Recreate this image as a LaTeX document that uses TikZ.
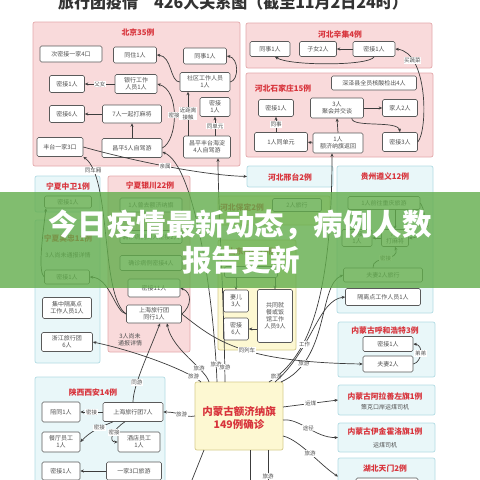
\documentclass[tikz,border=0pt]{standalone}
\usepackage{fontspec}
\newfontfamily\cjk{Noto Sans CJK SC}
\usetikzlibrary{arrows.meta,calc}
\definecolor{pfill}{HTML}{F9DADB}
\definecolor{pdraw}{HTML}{E4A9AC}
\definecolor{cfill}{HTML}{E9F7F9}
\definecolor{cdraw}{HTML}{B3DCE4}
\definecolor{yfill}{HTML}{FDF8D2}
\definecolor{ydraw}{HTML}{D6CB8C}
\definecolor{tred}{HTML}{D8343C}
\definecolor{ndraw}{HTML}{5A5A5A}
\definecolor{tgray}{HTML}{505050}
\definecolor{edark}{HTML}{3C3C3C}
\definecolor{bgreen}{HTML}{62AD4C}
\newcommand\mkn[6]{\node[nd,minimum width=#4pt,minimum height=#5pt] (#1) at (#2,#3) {#6};}
\newcommand\mkb[6]{\node[#2,minimum width={#5pt-#3pt},minimum height={#6pt-#4pt}] (#1) at ({(#3+#5)/2},{(#4+#6)/2}) {};}
\begin{document}
\begin{tikzpicture}[x=1pt,y=-1pt,
  nd/.style={draw=ndraw, fill=white, rounded corners=1.5pt, line width=0.6pt, text=tgray, font=\cjk\fontsize{6}{7}\selectfont, align=center, inner sep=0.5pt},
  pinkbox/.style={draw=pdraw, fill=pfill, rounded corners=2pt, line width=0.7pt, inner sep=0pt, outer sep=0pt},
  cyanbox/.style={draw=cdraw, fill=cfill, rounded corners=2pt, line width=0.7pt, inner sep=0pt, outer sep=0pt},
  ybox/.style={draw=ydraw, fill=yfill, rounded corners=2pt, line width=0.7pt, inner sep=0pt, outer sep=0pt},
  ttl/.style={text=tred, font=\cjk\bfseries\fontsize{7.8}{9}\selectfont, inner sep=0pt},
  sub/.style={text=tgray, font=\cjk\fontsize{6}{7}\selectfont, inner sep=0pt, align=center},
  lbl/.style={fill=white, text=tgray, font=\cjk\fontsize{5.5}{6.5}\selectfont, inner sep=0.6pt, align=center},
  ed/.style={draw=edark, line width=0.7pt, -{Stealth[length=3.5pt,width=3pt]}},
  edl/.style={draw=edark, line width=0.7pt},
]
\useasboundingbox (0,0) rectangle (480,480);
\clip (0,0) rectangle (480,480);
\fill[white] (0,0) rectangle (480,480);

\node[font=\cjk\bfseries\fontsize{16}{16}\selectfont, text=black!80, inner sep=0pt] (tt) at (233,2) {旅行团疫情\quad 426人关系图（截至11月2日24时）};

% ---------- boxes ----------
\mkb{bbj}{pinkbox}{33}{22}{240}{166}
\mkb{bxj}{pinkbox}{246}{23}{432}{68}
\mkb{bsj}{pinkbox}{246}{73}{433}{157}
\mkb{bxt}{cyanbox}{247}{166}{333}{187}
\mkb{bgz}{cyanbox}{337}{166}{433}{313}
\mkb{bbd}{ybox}{218}{196}{330}{225}
\mkb{bsd}{ybox}{218}{240}{296}{350}
\mkb{bzw}{cyanbox}{35}{176}{100}{212}
\mkb{bwz}{cyanbox}{35}{220}{100}{363}
\mkb{byc}{pinkbox}{108}{176}{190}{352}
\mkb{bxa}{cyanbox}{35}{377}{165}{495}
\mkb{bnm}{ybox}{195}{382}{283}{450}
\mkb{bhh}{cyanbox}{338}{322}{435}{377}
\mkb{balsa}{cyanbox}{338}{385}{435}{415}
\mkb{byj}{cyanbox}{338}{423}{435}{452}
\mkb{btm}{cyanbox}{338}{458}{435}{495}

% ---------- titles ----------
\node[ttl] (tbj) at (138,33) {北京35例};
\node[ttl] (txj) at (340,34) {河北辛集4例};
\node[ttl] (tsj) at (283,88) {河北石家庄15例};
\node[ttl] (txt) at (290,177) {河北邢台2例};
\node[ttl] (tgz) at (385,177) {贵州遵义12例};
\node[ttl] (tbd) at (242,207) {河北保定2例};
\node[ttl] (tsd) at (252,252) {山东日照19例};
\node[ttl] (tzw) at (68,186) {宁夏中卫1例};
\node[ttl] (twz) at (68,238) {宁夏吴忠11例};
\node[sub] (twz2) at (68,255) {3人尚未通报详情};
\node[ttl] (tyc) at (150,186) {宁夏银川22例};
\node[sub] (tyc2) at (130,340) {3人尚未\\通报详情};
\node[ttl] (txa) at (93,393) {陕西西安14例};
\node[text=tred, font=\cjk\bfseries\fontsize{10.5}{13}\selectfont, align=center, inner sep=0pt] (tnm) at (239,418) {内蒙古额济纳旗\\149例确诊};
\node[ttl] (thh) at (385,331) {内蒙古呼和浩特3例};
\node[ttl] (talsa) at (385,396) {内蒙古阿拉善左旗1例};
\node[sub] (salsa) at (385,407) {策克口岸运煤司机};
\node[ttl] (tyj) at (385,432) {内蒙古伊金霍洛旗1例};
\node[sub] (syj) at (385,445) {运煤司机};
\node[ttl] (ttm) at (385,469) {湖北天门2例};

% ---------- nodes ----------
\mkn{bj1}{71}{54}{62}{16}{次密接一家4口}
\mkn{bj2}{135}{55}{43}{16}{同住1人}
\mkn{bj3}{205}{56}{43}{16}{同事1人}
\mkn{bj4}{67}{84}{35}{17}{密接1人}
\mkn{bj5}{136}{84}{42}{19}{银行工作\\人员1人}
\mkn{bj6}{205}{82}{50}{19}{社区工作人员\\1人}
\mkn{bj7}{67}{114}{35}{17}{密接6人}
\mkn{bj8}{132}{114}{59}{18}{7人一起打麻将}
\mkn{bj9}{215}{107}{30}{19}{密接\\1人}
\mkn{bj10}{60}{147}{46}{19}{丰台一家3口}
\mkn{bj11}{132}{148}{60}{19}{昌平5人自驾游}
\mkn{bj12}{207}{147}{47}{22}{昌平丰台海淀\\4人自驾游}

\mkn{xj1}{270}{49}{40}{15}{同事1人}
\mkn{xj2}{318}{49}{37}{15}{子女2人}
\mkn{xj3}{374}{49}{42}{15}{密接1人}

\mkn{sj0}{374}{83}{85}{14}{深泽县全员核酸检出4人}
\mkn{sj1}{276}{108}{35}{17}{密接1人}
\mkn{sj2}{281}{142}{53}{19}{1人同单元}
\mkn{sj3}{337}{108}{53}{20}{3人\\聚会并交谈}
\mkn{sj4}{400}{108}{35}{17}{家人2人}
\mkn{sj5}{338}{143}{50}{20}{1人\\额济纳旗返回}
\mkn{sj6}{400}{142}{35}{19}{密接3人}

\mkn{gz1}{384}{203}{72}{13}{1人前往重庆旅游}
\mkn{gz2}{357}{238}{30}{17}{密接\\1人}
\mkn{gz3}{395}{238}{27}{17}{7人\\打麻将}
\mkn{gz4}{383}{275}{79}{14}{夫妻2人旅行}
\mkn{gz5}{383}{297}{75}{17}{隔离点工作人员1人}

\mkn{bd1}{297}{205}{49}{13}{2人旅行}
\mkn{sd0}{251}{272}{53}{11}{}
\mkn{sd1}{236}{301}{25}{22}{妻儿\\3人}
\mkn{sd2}{236}{329}{25}{22}{密接\\6人}
\mkn{sd3}{275}{316}{35}{53}{共同就\\餐或饭\\馆工作\\人员9人}

\mkn{nz1}{68}{202}{47}{12}{密接1人}
\mkn{nw1}{67}{277}{45}{14}{密接1人}
\mkn{nw2}{67}{308}{49}{21}{集中隔离点\\工作人员1人}
\mkn{nw3}{67}{342}{51}{19}{浙江旅行团\\6人}

\mkn{yc1}{151}{205}{62}{14}{1人曾去额济纳旗}
\mkn{yc2}{151}{237}{62}{13}{确诊病例同人密接2人}
\mkn{yc3}{151}{263}{62}{15}{确诊病例密接4人}
\mkn{yc4}{154}{288}{52}{18}{密接11人}
\mkn{yc5}{154}{314}{55}{18}{上海旅行团\\同行1人}

\mkn{xa1}{61}{412}{38}{20}{陪同1人}
\mkn{xa2}{133}{412}{60}{19}{上海旅行团7人}
\mkn{xa3}{61}{442}{38}{20}{餐厅员工\\1人}
\mkn{xa4}{139}{442}{42}{20}{酒店员工\\1人}
\mkn{xa5}{61}{471}{38}{18}{密接1人}
\mkn{xa6}{134}{471}{55}{18}{一家3口旅游}

\mkn{hh1}{388}{344}{50}{15}{密接1人}
\mkn{hh2}{388}{364}{50}{16}{夫妻2人}
\mkn{tm1}{387}{486}{62}{16}{}

% ---------- edges: Beijing ----------
\draw[ed] (bj6.west) .. controls (170,82) and (172,56) .. (bj2.east);
\draw[ed] (bj6.east) .. controls (239,80) and (239,58) .. (bj3.east);
\draw[ed] (bj5.west) -- node[lbl]{父女} (bj4.east);
\draw[ed] (bj8.west) -- (bj7.east);
\draw[ed] (bj11.north) -- (bj8.south);
\draw[ed] (bj11.east) .. controls (178,140) and (180,90) .. node[lbl]{密接} (bj5.east);
\draw[ed] ([xshift=-19pt]bj12.north) -- node[lbl]{近距离\\接触} ([xshift=-17pt]bj6.south);
\draw[ed] ([xshift=8pt]bj12.north) -- node[lbl]{同单元} (bj9.south);
\draw[ed] (bj10.east) .. controls (130,160) and (200,175) .. node[lbl]{亲属} (bxt.west);

% ---------- edges: Hebei ----------
\draw[ed] (xj3.west) -- (xj2.east);
\draw[ed] (xj3.south) .. controls (370,66) and (290,66) .. ([xshift=5pt]xj1.south);
\draw[ed] (sj6.east) .. controls (428,130) and (428,52) .. node[lbl,pos=0.78]{买蔬菜} (xj3.east);
\draw[ed] (sj2.north -| sj1.south) -- node[lbl]{同事} (sj1.south);
\draw[ed] (sj5.west) -- (sj2.east);
\draw[ed] (sj5.north) -- (sj3.south);
\draw[ed] (sj3.east) -- (sj4.west);
\draw[ed] ([xshift=-12pt]sj3.south east) .. controls (352,128) and (398,120) .. (sj6.north);

% ---------- edges: Guizhou / middle ----------
\draw[ed] (gz3.west) -- (gz2.east);
\draw[ed] (gz1.south -| gz3.north) -- (gz3.north);
\draw[ed] (gz1.east) .. controls (428,215) and (426,238) .. node[lbl]{密接} (gz3.east);
\draw[ed] ([xshift=-10pt]gz4.north) .. controls (372,255) and (400,262) .. node[lbl]{密接} (gz3.south);
\draw[ed] (sd0.south -| sd1.north) -- (sd1.north);
\draw[ed] (sd0.south -| sd3.north) -- (sd3.north);
\draw[ed] (sd3.west |- sd2.east) -- (sd2.east);

% ---------- edges: Ningxia ----------
\draw[ed] (nw1.west) .. controls (38,272) and (42,240) .. ([xshift=-22pt]nz1.south);
\draw[ed] (yc5.west) .. controls (115,312) and (110,278) .. (nw1.east);
\draw[ed] (yc5.east) .. controls (192,306) and (192,292) .. (yc4.east);
\draw[ed] (yc5.west) .. controls (100,296) and (112,178) .. node[lbl,pos=0.86]{同车厢} (bj10.south east);

% ---------- edges: Shaanxi ----------
\draw[ed] (xa2.west) -- node[lbl]{密接} (xa1.east);
\draw[ed] ([xshift=-20pt]xa2.south) .. controls (98,428) and (90,432) .. node[lbl,pos=0.35]{密接} (xa3.east);
\draw[ed] ([xshift=-8pt]xa2.south) .. controls (112,430) and (108,442) .. node[lbl,pos=0.4]{密接} (xa4.west);
\draw[ed] (xa6.west) -- (xa5.east);
\draw[ed] (xa2.north) .. controls (133,385) and (150,350) .. node[lbl,pos=0.3]{同游} ([xshift=6pt]yc5.south);

% ---------- edges: Inner Mongolia ----------
\draw[ed] ([xshift=-30pt]bnm.north) .. controls (205,368) and (172,350) .. node[lbl,pos=0.3]{旅游} ([xshift=13pt]yc5.south);
\draw[ed] (bnm.west) .. controls (185,418) and (180,412) .. node[lbl]{旅游} (xa2.east);
\draw[ed] ([xshift=-38pt]bnm.north) .. controls (190,372) and (140,352) .. node[lbl,pos=0.15]{旅游} (nw3.east);
\draw[ed] ([xshift=-22pt]bnm.north) .. controls (214,300) and (195,165) .. node[lbl,pos=0.07]{旅游} ([yshift=-4pt]bj11.east);
\draw[ed] ([xshift=-14pt]bnm.north) .. controls (224,300) and (218,200) .. node[lbl,pos=0.06]{旅游} ([xshift=11pt]bj12.south);
\draw[ed] ([xshift=30pt]bnm.north) .. controls (300,362) and (332,320) .. node[lbl,pos=0.08]{旅游} ([xshift=-6pt]sj5.south);
\draw[ed] ([xshift=36pt]bnm.north) .. controls (312,350) and (318,300) .. node[lbl,pos=0.35]{工作} (gz5.west);
\draw[ed] ([xshift=42pt]bnm.north) .. controls (330,360) and (318,285) .. node[lbl,pos=0.2]{旅游} (gz4.west);
\draw[ed] ([yshift=9pt]bnm.east) -- node[lbl]{运煤} (balsa.west);
\draw[ed] ([yshift=-4pt]bnm.east) .. controls (300,418) and (315,438) .. node[lbl]{途径} (byj.west);
\draw[ed] ([yshift=-20pt]bnm.east) .. controls (300,440) and (320,465) .. node[lbl]{旅游} (btm.west);
\draw[ed] (yc5.east) .. controls (215,340) and (240,362) .. node[lbl,pos=0.55]{同列车} (hh2.west);
\draw[ed] (hh2.east) .. controls (422,362) and (424,345) .. node[lbl]{弟弟} (hh1.east);
\coordinate (dn1) at (250,490);
\coordinate (dn2) at (268,490);
\coordinate (dn3) at (188,490);
\draw[edl] ([xshift=11pt]bnm.south) -- (dn1);
\draw[edl] ([xshift=29pt]bnm.south) -- node[lbl,pos=0.65]{旅游} (dn2);
\draw[edl] ([xshift=-35pt]bnm.south) -- (dn3);

% ---------- banner ----------
\mkb{banner}{fill=bgreen, fill opacity=0.8, draw=none, inner sep=0pt, outer sep=0pt}{-2}{192}{482}{288}
\node[text=white, font=\cjk\bfseries\fontsize{29.5}{30}\selectfont, inner sep=0pt] (bt1) at (240,225) {今日疫情最新动态，病例人数};
\node[text=white, font=\cjk\bfseries\fontsize{29.5}{30}\selectfont, inner sep=0pt] (bt2) at (241,260) {报告更新};
\end{tikzpicture}
\end{document}
